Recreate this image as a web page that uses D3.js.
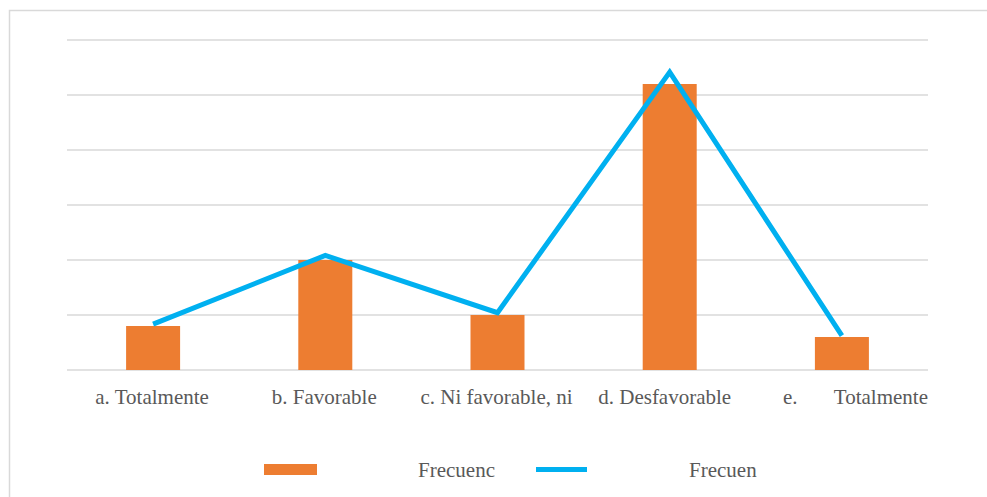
<!DOCTYPE html>
<html>
<head>
<meta charset="utf-8">
<script src="https://cdn.jsdelivr.net/npm/d3@7"></script>
<style>
  html, body { margin: 0; padding: 0; background: #fff; }
  svg { display: block; }
  text { font-family: "Times New Roman", "Liberation Serif", serif; fill: #595959; }
</style>
</head>
<body>
<script>
// Categories of the response scale
const categories = ["a. Totalmente", "b. Favorable", "c. Ni favorable, ni", "d. Desfavorable", "e. Totalmente"];
// Frequency (bars) and percentage (line) per category
const frequency = [8, 20, 10, 52, 6];
const percentage = [8.33, 20.83, 10.42, 54.17, 6.25];
// Gridline values
const gridTicks = [0, 10, 20, 30, 40, 50, 60];
const legendLabels = ["Frecuenc", "Frecuen"];

const W = 987, H = 497;
const svg = d3.select("body").append("svg").attr("width", W).attr("height", H);

// chart frame (only the top and left edges fall inside the window)
svg.append("rect")
  .attr("x", 9.5).attr("y", 10.5)
  .attr("width", 1100).attr("height", 600)
  .attr("fill", "none").attr("stroke", "#d9d9d9").attr("stroke-width", 1.5);

const plot = { left: 67, right: 928, top: 40, bottom: 370 };

const x = d3.scaleBand().domain(categories).range([plot.left, plot.right]);
const y = d3.scaleLinear().domain([0, 60]).range([plot.bottom, plot.top]);

// horizontal gridlines
svg.append("g").selectAll("line").data(gridTicks).join("line")
  .attr("x1", plot.left).attr("x2", plot.right)
  .attr("y1", d => y(d)).attr("y2", d => y(d))
  .attr("stroke", "#d9d9d9").attr("stroke-width", 1.5);

// bars
const barW = 54;
svg.append("g").selectAll("rect").data(frequency).join("rect")
  .attr("x", (d, i) => x(categories[i]) + x.bandwidth() / 2 - barW / 2)
  .attr("y", d => y(d))
  .attr("width", barW)
  .attr("height", d => y(0) - y(d))
  .attr("fill", "#ed7d31");

// line
const line = d3.line()
  .x((d, i) => x(categories[i]) + x.bandwidth() / 2)
  .y(d => y(d));
svg.append("path").datum(percentage)
  .attr("d", line)
  .attr("fill", "none")
  .attr("stroke", "#00b0f0")
  .attr("stroke-width", 5)
  .attr("stroke-linejoin", "miter");

// category labels
const labels = svg.append("g").attr("font-size", 21);
categories.forEach((c, i) => {
  const cx = x(c) + x.bandwidth() / 2;
  if (i === categories.length - 1) {
    // justified label: prefix at left, remainder flush right
    const parts = c.split(" ");
    const t = labels.append("text").attr("y", 404);
    t.append("tspan").attr("x", 783).text(parts[0]);
    t.append("tspan").attr("x", plot.right).attr("text-anchor", "end").text(parts.slice(1).join(" "));
  } else {
    labels.append("text")
      .attr("x", cx - (i === 3 ? 5 : 1)).attr("y", 404)
      .attr("text-anchor", "middle")
      .text(c);
  }
});

// legend
const lg = svg.append("g").attr("font-size", 21);
lg.append("rect").attr("x", 264).attr("y", 464).attr("width", 53).attr("height", 11).attr("fill", "#ed7d31");
lg.append("text").attr("x", 418).attr("y", 477).text(legendLabels[0]);
lg.append("line").attr("x1", 536).attr("x2", 587).attr("y1", 469.5).attr("y2", 469.5)
  .attr("stroke", "#00b0f0").attr("stroke-width", 5);
lg.append("text").attr("x", 689).attr("y", 477).text(legendLabels[1]);
</script>
</body>
</html>
